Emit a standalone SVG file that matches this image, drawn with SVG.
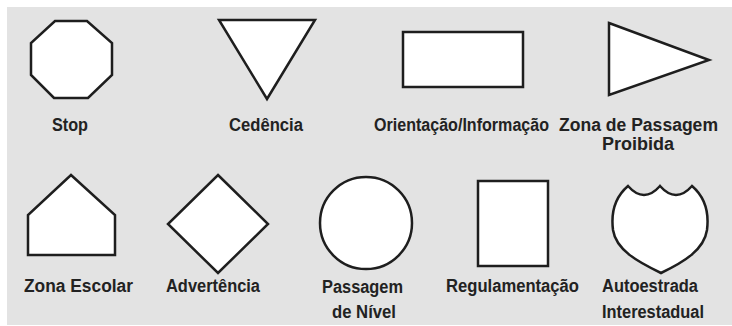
<svg xmlns="http://www.w3.org/2000/svg" width="732" height="326" viewBox="0 0 732 326">
<style>
.s{fill:#fff;stroke:#1e1e1e;stroke-width:2.5;stroke-linejoin:miter}
.t{font-family:"Liberation Sans",Arial,sans-serif;font-weight:bold;font-size:18px;fill:#222;text-anchor:middle}
</style>
<rect x="0" y="0" width="732" height="326" fill="#fff"/>
<rect x="7" y="7" width="725" height="318" fill="#e3e3e3"/>
<g id="connectors"></g>
<g id="stop">
<polygon class="s" points="55,21 87,21 112,43 112,75 88,98 54,98 31,75 31,43"/>
<text class="t" x="70" y="131" textLength="36" lengthAdjust="spacingAndGlyphs">Stop</text>
</g>
<g id="cedencia">
<polygon class="s" points="219,20 315,20 267,99"/>
<text class="t" x="266" y="131" textLength="74" lengthAdjust="spacingAndGlyphs">Cedência</text>
</g>
<g id="orientacao">
<rect class="s" x="403" y="32" width="120" height="55"/>
<text class="t" x="461.5" y="131" textLength="175" lengthAdjust="spacingAndGlyphs">Orientação/Informação</text>
</g>
<g id="zona-passagem">
<polygon class="s" points="609,23 709,60 609,95"/>
<text class="t" x="638.5" y="131" textLength="159" lengthAdjust="spacingAndGlyphs">Zona de Passagem</text>
<text class="t" x="638" y="150" textLength="72" lengthAdjust="spacingAndGlyphs">Proibida</text>
</g>
<g id="zona-escolar">
<polygon class="s" points="71,175 115,215 115,255 28,255 28,215"/>
<text class="t" x="78.5" y="292" textLength="109" lengthAdjust="spacingAndGlyphs">Zona Escolar</text>
</g>
<g id="advertencia">
<polygon class="s" points="218,175 268,224 218,273 168,224"/>
<text class="t" x="213" y="292" textLength="94" lengthAdjust="spacingAndGlyphs">Advertência</text>
</g>
<g id="passagem-nivel">
<circle class="s" cx="366" cy="223" r="46"/>
<text class="t" x="362.5" y="293" textLength="81" lengthAdjust="spacingAndGlyphs">Passagem</text>
<text class="t" x="364" y="318" textLength="64" lengthAdjust="spacingAndGlyphs">de Nível</text>
</g>
<g id="regulamentacao">
<rect class="s" x="478" y="181" width="70" height="85"/>
<text class="t" x="512.5" y="292" textLength="133" lengthAdjust="spacingAndGlyphs">Regulamentação</text>
</g>
<g id="autoestrada">
<path class="s" d="M628,186 Q644,204 660,186 Q676,204 692,186 C706,198 709,214 707,230 C704,250 684,262 661,273 C638,262 616,250 613,230 C611,214 614,198 628,186 Z"/>
<text class="t" x="650" y="292" textLength="96" lengthAdjust="spacingAndGlyphs">Autoestrada</text>
<text class="t" x="653" y="318" textLength="102" lengthAdjust="spacingAndGlyphs">Interestadual</text>
</g>
</svg>
